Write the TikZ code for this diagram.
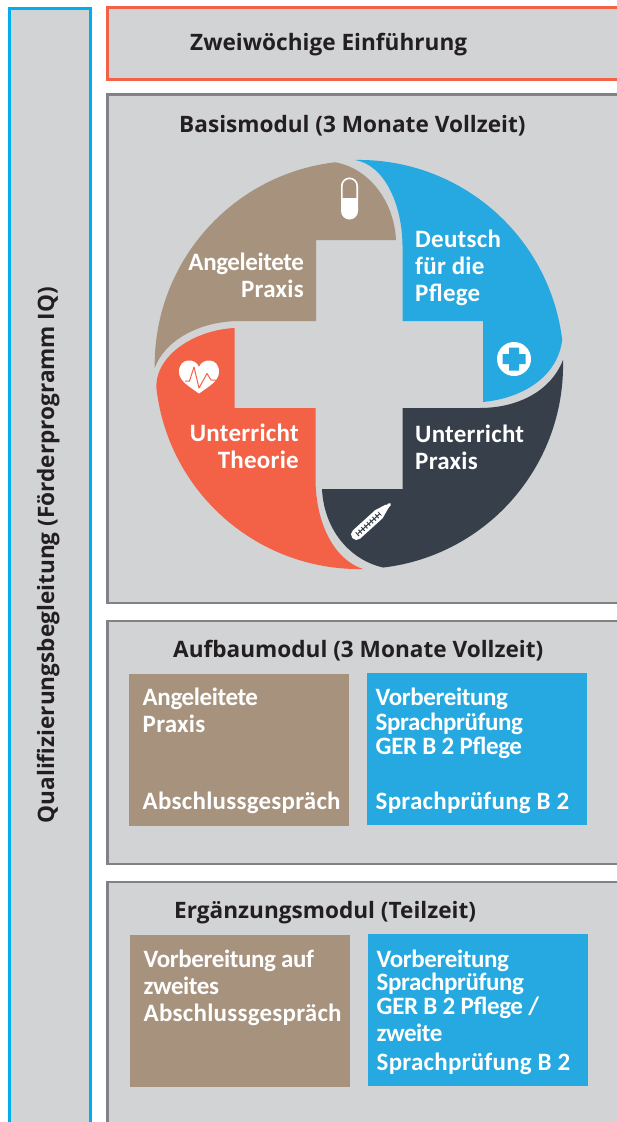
\documentclass[tikz,border=0pt]{standalone}
\usepackage{fontspec}
\setmainfont{Carlito}
\newfontfamily\headfont{Open Sans}
\newfontfamily\widefont[LetterSpace=1]{Carlito}
\newfontfamily\tightfont[LetterSpace=-1.6]{Carlito}
\definecolor{bggrey}{HTML}{D1D3D4}
\definecolor{brownc}{HTML}{A7927D}
\definecolor{bluec}{HTML}{25A9E0}
\definecolor{darkc}{HTML}{37404A}
\definecolor{orangec}{HTML}{F36247}
\definecolor{cyanb}{HTML}{00AEEF}
\definecolor{greyb}{HTML}{808285}
\definecolor{headc}{HTML}{231F20}
\tikzset{
  panel/.style={fill=bggrey,draw=greyb,line width=2.8pt},
  headtext/.style={anchor=base west,inner sep=0pt,font=\headfont\bfseries\fontsize{22.6}{26}\selectfont,text=headc},
  wtext/.style={anchor=base west,inner sep=0pt,font=\widefont\bfseries\fontsize{25}{27}\selectfont,text=white},
  wright/.style={anchor=base east,inner sep=0pt,font=\widefont\bfseries\fontsize{25}{27}\selectfont,text=white},
  btext/.style={anchor=base west,inner sep=0pt,font=\tightfont\bfseries\fontsize{25}{27}\selectfont,text=white},
}
\begin{document}
\begin{tikzpicture}[x=1pt,y=1pt,yscale=-1]
\useasboundingbox (0,0) rectangle (617,1122);
\clip (0,0) rectangle (617,1122);
% panels
\draw[panel,draw=cyanb] (9.4,8.4) rectangle (90.6,1140);
\draw[panel,draw=orangec] (107.4,7.4) rectangle (640,79.6);
\draw[panel] (107.4,94.6) rectangle (640,603);
\draw[panel] (107.4,621) rectangle (640,864);
\draw[panel] (107.4,882) rectangle (640,1140);
% ring segments
\fill[brownc] (154.7,368) arc[start angle=179.2,end angle=263.3,radius=204.3]
  .. controls (368,168) and (394,200) .. (396,240) -- (316,240) -- (316,321) -- (240,321)
  .. controls (200,321) and (165,340) .. cycle;
\fill[bluec] (355,160) arc[start angle=268.9,end angle=353,radius=204.8]
  .. controls (558,375) and (525,398) .. (483,402) -- (483,321) -- (402.5,321) -- (402.5,245)
  .. controls (402,205) and (385,165) .. cycle;
\fill[darkc] (563,360) arc[start angle=-1.4,end angle=83.2,radius=204]
  .. controls (350,560) and (324,530) .. (322,489) -- (402.5,489) -- (402.5,408) -- (480,408)
  .. controls (515,408) and (550,393) .. cycle;
\fill[orangec] (363,569) arc[start angle=88.9,end angle=173.5,radius=204]
  .. controls (155,355) and (195,330) .. (234.5,328) -- (234.5,408) -- (315.5,408) -- (315.5,480)
  .. controls (316,525) and (335,560) .. cycle;
% pill
\fill[white] (341,198) -- (358,198) -- (358,211) arc[start angle=0,end angle=180,radius=8.5] -- cycle;
\draw[white,line width=1.6pt] (341.8,198) -- (341.8,186) arc[start angle=180,end angle=360,radius=7.7] -- (357.2,198);
% plus
\fill[white] (514,359) circle[radius=17];
\fill[bluec] (509,347.5) rectangle (519,354) (502.5,354) rectangle (525.5,364) (509,364) rectangle (519,370.5);
% heart
\fill[white] (199,393.5) .. controls (190,387) and (179,381) .. (179,372)
  .. controls (179,357) and (196,358) .. (199,367)
  .. controls (202,358) and (219,357) .. (219,372)
  .. controls (219,381) and (208,387) .. (199,393.5) -- cycle;
\draw[orangec,line width=1pt,line join=round] (185,381) -- (189.5,381) -- (194,367) -- (199,388) -- (207,373.5) -- (211,380) -- (216,380);
% thermometer
\draw[white,line width=11pt,line cap=round] (356.5,534.5) -- (378,515);
\fill[white] (374.5,510.5) -- (382.5,518.5) -- (389,507) -- (386,504.5) -- cycle;
\draw[white,line width=3pt,line cap=round] (384,509.5) -- (389.5,504.5);
\draw[darkc,line width=5pt,dash pattern=on 1pt off 2.8pt] (357,534.5) -- (380,513.5);
\draw[darkc,line width=1pt] (358,533.5) -- (380,513.5);
% headings
\node[headtext] (zwei) at (190,50) {Zweiwöchige Einführung};
\node[headtext] (basis) at (179,132) {Basismodul (3 Monate Vollzeit)};
\node[headtext] (aufbau) at (173,657.3) {Aufbaumodul (3 Monate Vollzeit)};
\node[headtext] (ergaenz) at (174,918.3) {Ergänzungsmodul (Teilzeit)};
\node[headtext,rotate=90] (quali) at (54,823.5) {Qualifizierungsbegleitung (Förderprogramm IQ)};
% ring text
\node[wtext] (d1) at (415,247) {Deutsch};
\node[wtext] (d2) at (415,274) {für die};
\node[wtext] (d3) at (415,301) {Pflege};
\node[wright,font=\tightfont\bfseries\fontsize{25}{27}\selectfont] (a1) at (304,270) {Angeleitete};
\node[wright] (a2) at (304,297) {Praxis};
\node[wright] (t1) at (299,441) {Unterricht};
\node[wright] (t2) at (299,468) {Theorie};
\node[wtext] (p1) at (415,442) {Unterricht};
\node[wtext] (p2) at (415,469) {Praxis};
% boxes
\fill[brownc] (129,674) rectangle (349,826);
\fill[bluec] (367,673) rectangle (587,825);
\fill[brownc] (130,935) rectangle (350,1087);
\fill[bluec] (368,934) rectangle (588,1086);
\node[btext] (b1) at (142.5,705) {Angeleitete};
\node[wtext] (b2) at (142.5,732) {Praxis};
\node[wtext] (b3) at (142.5,809) {Abschlussgespräch};
\node[btext] (c1) at (375.5,705) {Vorbereitung};
\node[btext] (c2) at (375.5,730) {Sprachprüfung};
\node[btext] (c3) at (375.5,754) {GER B 2 Pflege};
\node[wtext] (c4) at (375.5,809) {Sprachprüfung B 2};
\node[btext] (e1) at (143.5,967) {Vorbereitung auf};
\node[btext] (e2) at (143.5,994) {zweites};
\node[wtext] (e3) at (143.5,1021) {Abschlussgespräch};
\node[btext] (f1) at (376.5,967) {Vorbereitung};
\node[btext] (f2) at (376.5,990) {Sprachprüfung};
\node[btext] (f3) at (376.5,1014) {GER B 2 Pflege /};
\node[btext] (f4) at (376.5,1041) {zweite};
\node[wtext] (f5) at (376.5,1070) {Sprachprüfung B 2};
\end{tikzpicture}
\end{document}
